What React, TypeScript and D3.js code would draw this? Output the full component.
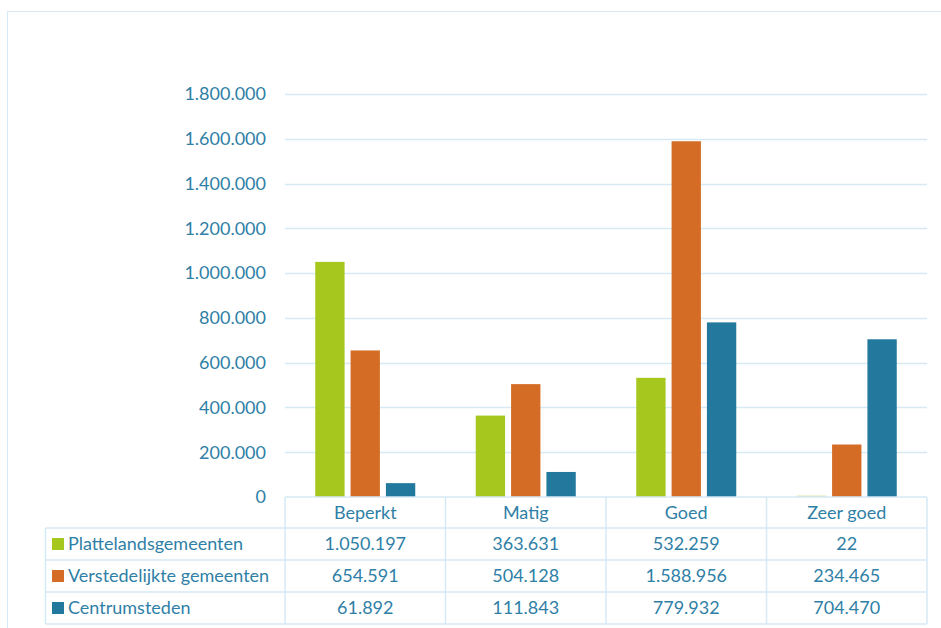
import React, { useEffect, useRef } from "react";
import * as d3 from "d3";

const categories = ["Beperkt", "Matig", "Goed", "Zeer goed"];
const seriesNames = ["Plattelandsgemeenten", "Verstedelijkte gemeenten", "Centrumsteden"];
const plattelands = [1050197, 363631, 532259, 22];
const verstedelijkt = [654591, 504128, 1588956, 234465];
const centrum = [61892, 111843, 779932, 704470];
const yTicks = [0, 200000, 400000, 600000, 800000, 1000000, 1200000, 1400000, 1600000, 1800000];

const colors = ["#a5c71e", "#d46c25", "#23789d"];
const textColor = "#2f7fa6";
const lineColor = "#d6e9f5";

const fmt = (v: number) => d3.format(",")(v).replace(/,/g, ".");

export default function App() {
  const width = 941;
  const height = 628;
  const svgRef = useRef<SVGSVGElement>(null);

  useEffect(() => {
    const svg = d3.select(svgRef.current);
    svg.selectAll("*").remove();
    const series = [plattelands, verstedelijkt, centrum];

    const x0 = 285, x1 = 927, yTop = 94, yBase = 497;
    const x = d3.scaleBand<string>().domain(categories).range([x0, x1]);
    const y = d3.scaleLinear().domain([0, 1800000]).range([yBase, yTop]);
    const inner = d3.scaleBand<number>().domain([0, 1, 2]).range([0, 100]).paddingInner(0.17);
    const font = "Lato, 'Open Sans', sans-serif";
    const fs = "18px";

    // outer frame
    svg.append("rect").attr("x", 7.5).attr("y", 11.5).attr("width", 960).attr("height", 640)
      .attr("fill", "none").attr("stroke", lineColor);

    // grid
    svg.append("g").selectAll("line").data(yTicks.slice(1)).join("line")
      .attr("x1", x0).attr("x2", x1)
      .attr("y1", (d) => Math.round(y(d)) + 0.5).attr("y2", (d) => Math.round(y(d)) + 0.5)
      .attr("stroke", lineColor).attr("stroke-width", 1.5);

    svg.append("g").selectAll("text").data(yTicks).join("text")
      .attr("x", 266).attr("y", (d) => y(d)).attr("dy", "0.35em")
      .attr("text-anchor", "end").attr("fill", textColor)
      .style("font-family", font).style("font-size", fs)
      .text((d) => fmt(d));

    // bars
    series.forEach((vals, si) => {
      svg.append("g").selectAll("rect").data(vals).join("rect")
        .attr("x", (_, i) => (x(categories[i]) as number) + (x.bandwidth() - 100) / 2 + (inner(si) as number))
        .attr("y", (d) => Math.min(y(d), yBase - 1.5))
        .attr("width", inner.bandwidth())
        .attr("height", (d) => Math.max(yBase - y(d), 1.5))
        .attr("fill", (_, i) => (si === 0 && i === 3 ? "#dbe8b0" : colors[si]));
    });

    // table
    const rowH = 32;
    const tableLeft = 45.5;
    const rows = [yBase, yBase + 31, yBase + 31 + rowH, yBase + 31 + 2 * rowH, yBase + 31 + 3 * rowH];
    const t = svg.append("g").attr("stroke", lineColor).attr("stroke-width", 1.5).attr("fill", "none");
    t.append("line").attr("x1", x0).attr("x2", x1).attr("y1", rows[0]).attr("y2", rows[0]);
    rows.slice(1).forEach((r) => {
      t.append("line").attr("x1", tableLeft).attr("x2", x1).attr("y1", r).attr("y2", r);
    });
    t.append("line").attr("x1", tableLeft).attr("x2", tableLeft).attr("y1", rows[1]).attr("y2", rows[4]);
    [x0, ...categories.map((c) => (x(c) as number) + x.bandwidth())].forEach((xv) => {
      t.append("line").attr("x1", xv).attr("x2", xv).attr("y1", rows[0]).attr("y2", rows[4]);
    });

    svg.append("g").selectAll("text").data(categories).join("text")
      .attr("x", (d) => (x(d) as number) + x.bandwidth() / 2)
      .attr("y", (rows[0] + rows[1]) / 2).attr("dy", "0.35em")
      .attr("text-anchor", "middle").attr("fill", textColor)
      .style("font-family", font).style("font-size", fs)
      .text((d) => d);

    series.forEach((vals, si) => {
      const cy = (rows[si + 1] + rows[si + 2]) / 2;
      svg.append("rect").attr("x", 52).attr("y", cy - 6).attr("width", 12).attr("height", 12).attr("fill", colors[si]);
      svg.append("text").attr("x", 68).attr("y", cy).attr("dy", "0.35em")
        .attr("fill", textColor).style("font-family", font).style("font-size", fs)
        .text(seriesNames[si]);
      svg.append("g").selectAll("text").data(vals).join("text")
        .attr("x", (_, i) => (x(categories[i]) as number) + x.bandwidth() / 2)
        .attr("y", cy).attr("dy", "0.35em")
        .attr("text-anchor", "middle").attr("fill", textColor)
        .style("font-family", font).style("font-size", fs)
        .text((d) => fmt(d));
    });
  }, []);

  return (
    <svg
      ref={svgRef}
      width={width}
      height={height}
      style={{ position: "absolute", left: 0, top: 0, background: "#fff" }}
    />
  );
}
